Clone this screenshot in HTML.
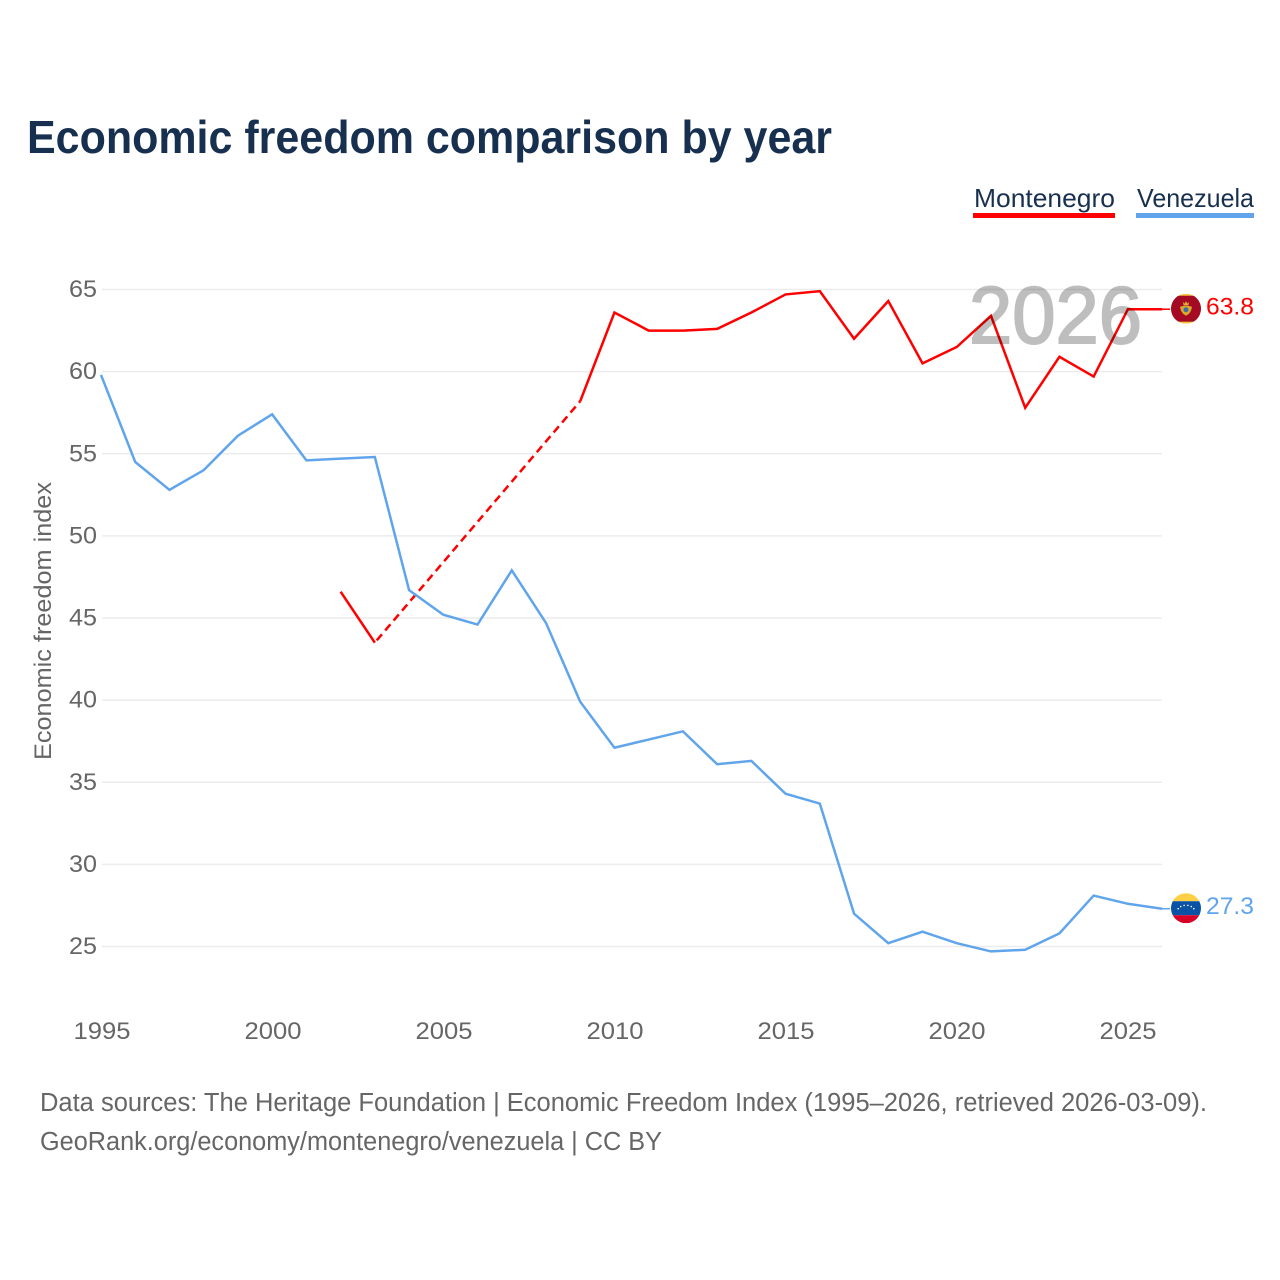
<!DOCTYPE html>
<html lang="en">
<head>
<meta charset="utf-8">
<title>Economic freedom comparison by year</title>
<style>
html,body{margin:0;padding:0;background:#fff}
svg{display:block}
text{font-family:"Liberation Sans",sans-serif}
</style>
</head>
<body>
<svg id="chart" xmlns="http://www.w3.org/2000/svg" width="1280" height="1280" viewBox="0 0 1280 1280">
<defs>
<clipPath id="flag-clip"><circle cx="0" cy="0" r="15"/></clipPath>
</defs>
<rect x="0" y="0" width="1280" height="1280" fill="#fff"/>
<text x="27" y="153" font-size="46" font-weight="700" fill="#18304f" textLength="805" lengthAdjust="spacingAndGlyphs">Economic freedom comparison by year</text>
<g>
<text x="974" y="207" font-size="26" fill="#18304f" textLength="141" lengthAdjust="spacingAndGlyphs">Montenegro</text>
<rect x="973" y="213" width="142" height="5" fill="#ff0000"/>
</g>
<g>
<text x="1137" y="207" font-size="26" fill="#18304f" textLength="117" lengthAdjust="spacingAndGlyphs">Venezuela</text>
<rect x="1136" y="213" width="118" height="5" fill="#60a5ec"/>
</g>
<g id="grid"></g>
<g id="yticks"></g>
<g id="xticks"></g>
<text transform="translate(51,621) rotate(-90)" text-anchor="middle" font-size="24" fill="#666" textLength="278" lengthAdjust="spacingAndGlyphs">Economic freedom index</text>
<g id="series"></g>
<text x="969" y="343" font-size="81" fill="#000" stroke="#000" stroke-width="2" opacity="0.25" textLength="173" lengthAdjust="spacingAndGlyphs">2026</text>
<g id="end-labels"></g>
<text x="40" y="1111" font-size="25.5" fill="#666" textLength="1167" lengthAdjust="spacingAndGlyphs">Data sources: The Heritage Foundation | Economic Freedom Index (1995–2026, retrieved 2026-03-09).</text>
<text x="40" y="1150" font-size="25.5" fill="#666" textLength="622" lengthAdjust="spacingAndGlyphs">GeoRank.org/economy/montenegro/venezuela | CC BY</text>
</svg>
<script>
const years = [1995,1996,1997,1998,1999,2000,2001,2002,2003,2004,2005,2006,2007,2008,2009,2010,2011,2012,2013,2014,2015,2016,2017,2018,2019,2020,2021,2022,2023,2024,2025,2026];
const venezuelaValues = [59.8,54.5,52.8,54.0,56.1,57.4,54.6,54.7,54.8,46.7,45.2,44.6,47.9,44.7,39.9,37.1,37.6,38.1,36.1,36.3,34.3,33.7,27.0,25.2,25.9,25.2,24.7,24.8,25.8,28.1,27.6,27.3];
const montenegroValues = [null,null,null,null,null,null,null,46.6,43.5,null,null,null,null,null,58.2,63.6,62.5,62.5,62.6,63.6,64.7,64.9,62.0,64.3,60.5,61.5,63.4,57.8,60.9,59.7,63.8,63.8];
const yTickValues = [25,30,35,40,45,50,55,60,65];
const xTickValues = [1995,2000,2005,2010,2015,2020,2025];

const NS = 'http://www.w3.org/2000/svg';
const RED = '#ff0000';
const BLUE = '#60a5ec';
function xScale(year){ return 101 + (year - 1995) * 34.23; }
function yScale(value){ return 946.5 - (value - 25) * 16.425; }
function make(tag, attrs, parent){
  const el = document.createElementNS(NS, tag);
  for (const k in attrs) el.setAttribute(k, attrs[k]);
  parent.appendChild(el);
  return el;
}

const gridGroup = document.getElementById('grid');
const yGroup = document.getElementById('yticks');
const xGroup = document.getElementById('xticks');
const seriesGroup = document.getElementById('series');
const endGroup = document.getElementById('end-labels');

yTickValues.forEach(function(v){
  const line = make('line', {x1:102, x2:1162, y1:yScale(v), y2:yScale(v), stroke:'#ececec', 'stroke-width':1.5}, gridGroup);
  
  
  const t = make('text', {x:97, y:yScale(v) + 7.5, 'text-anchor':'end', 'font-size':24.5, fill:'#666', textLength:28, lengthAdjust:'spacingAndGlyphs'}, yGroup);
  t.textContent = v;
  
  
});

xTickValues.forEach(function(y){
  const t = make('text', {x:102 + (y - 1995) * 34.2, y:1039, 'text-anchor':'middle', 'font-size':24.5, fill:'#666', textLength:57, lengthAdjust:'spacingAndGlyphs'}, xGroup);
  t.textContent = y;
  
  
});

function drawSeries(values, color, key){
  let run = [];
  let last = null;
  const flush = function(){
    if (run.length > 1) {
      const p = make('polyline', {points:run.join(' '), fill:'none', stroke:color, 'stroke-width':2.5, 'stroke-linejoin':'miter'}, seriesGroup);
      
      
    }
    run = [];
  };
  values.forEach(function(v, i){
    if (v === null) { flush(); return; }
    const pt = xScale(years[i]) + ',' + yScale(v);
    if (last !== null && last.i < i - 1) {
      const d = make('line', {x1:xScale(years[last.i]), y1:yScale(last.v), x2:xScale(years[i]), y2:yScale(v), stroke:color, 'stroke-width':2.5, 'stroke-dasharray':'8 5', 'stroke-dashoffset':10}, seriesGroup);
      
      
    }
    run.push(pt);
    last = {i:i, v:v};
  });
  flush();
}
drawSeries(montenegroValues, RED, 'montenegro');
drawSeries(venezuelaValues, BLUE, 'venezuela');

function drawEnd(values, color, key, drawFlag){
  const v = values[values.length - 1];
  const y = yScale(v);
  const x = 1162;
  const lead = make('line', {x1:x, x2:x + 8, y1:y, y2:y, stroke:color, 'stroke-width':1.5}, endGroup);
  
  
  const g = make('g', {transform:'translate(' + (x + 24) + ',' + (y - 0.5) + ')', 'clip-path':'url(#flag-clip)'}, endGroup);
  
  
  drawFlag(g);
  const t = make('text', {x:x + 44, y:y + 5.5, 'font-size':24.5, fill:color, textLength:48, lengthAdjust:'spacingAndGlyphs'}, endGroup);
  t.textContent = v.toFixed(1);
  
  
}
drawEnd(montenegroValues, RED, 'montenegro', function(g){
  make('rect', {x:-15, y:-15, width:30, height:30, fill:'#f5c93f'}, g);
  make('rect', {x:-15, y:-13, width:30, height:26, fill:'#a50a24'}, g);
  make('path', {d:'M-3,-7 L-1.5,-5 L0,-7.5 L1.5,-5 L3,-7 L2.5,-3.5 L-2.5,-3.5 Z', fill:'#e0b030'}, g);
  make('path', {d:'M-6,-2 L-2,-3 L2,-3 L6,-2 L5,2 L3,5 L0,7 L-3,5 L-5,2 Z', fill:'#d9a92c'}, g);
  make('circle', {cx:0, cy:1, r:2.5, fill:'#3a6ea5'}, g);
});
drawEnd(venezuelaValues, BLUE, 'venezuela', function(g){
  make('rect', {x:-15, y:-15, width:30, height:8, fill:'#ffd045'}, g);
  make('rect', {x:-15, y:-7, width:30, height:14, fill:'#0a52a5'}, g);
  make('rect', {x:-15, y:7, width:30, height:8, fill:'#d80027'}, g);
  for (let a = -60; a <= 60; a += 24) {
    const r = a * Math.PI / 180;
    make('circle', {cx:Math.sin(r) * 9, cy:4 - Math.cos(r) * 7, r:0.8, fill:'#fff'}, g);
  }
});
</script>
</body>
</html>
